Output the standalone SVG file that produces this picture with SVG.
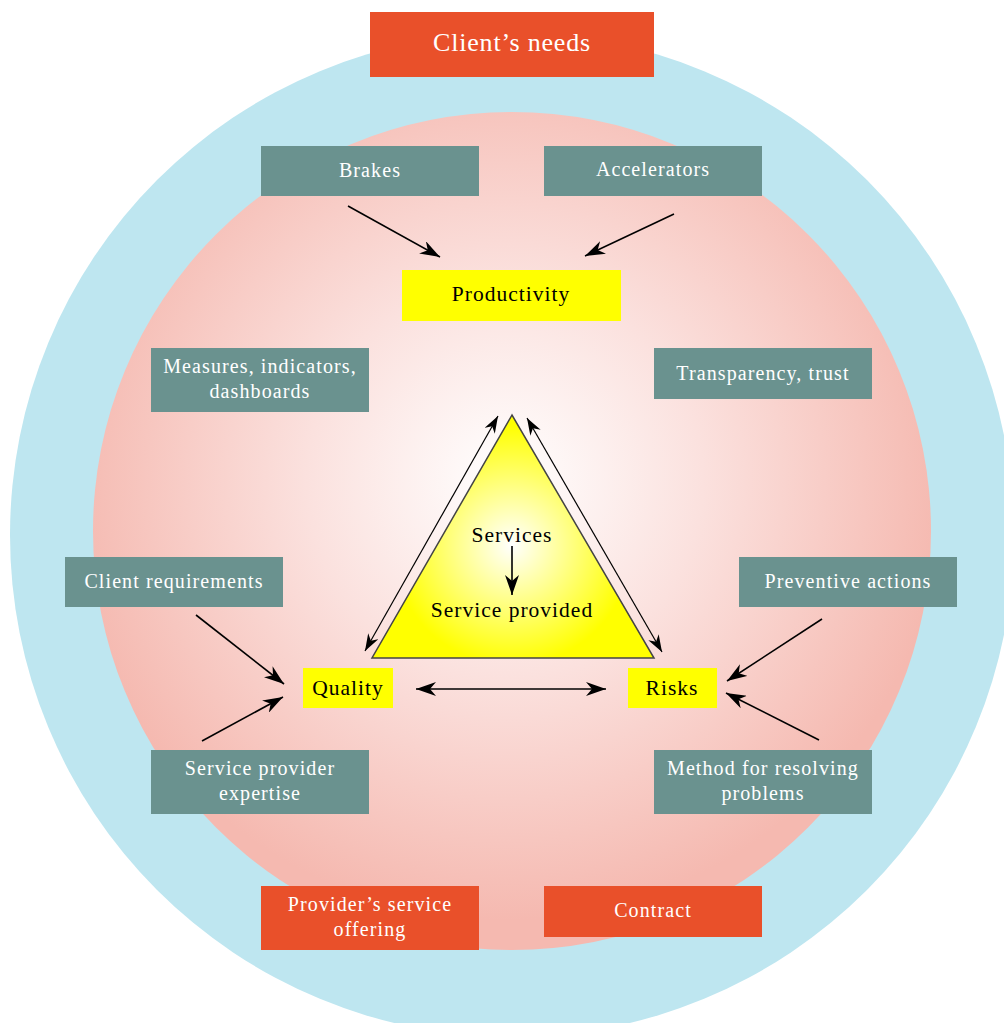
<svg xmlns="http://www.w3.org/2000/svg" width="1004" height="1023" viewBox="0 0 1004 1023">
<defs>
<radialGradient id="pink" gradientUnits="userSpaceOnUse" cx="505" cy="480" r="440">
<stop offset="0" stop-color="#ffffff"/>
<stop offset="0.45" stop-color="#fbe1de"/>
<stop offset="1" stop-color="#f5b9b0"/>
</radialGradient>
<radialGradient id="yel" gradientUnits="userSpaceOnUse" cx="512" cy="545" r="120">
<stop offset="0" stop-color="#ffffff"/>
<stop offset="0.5" stop-color="#ffff80"/>
<stop offset="1" stop-color="#ffff00"/>
</radialGradient>
<marker id="ah" viewBox="0 0 20 14" refX="20" refY="7" markerWidth="20" markerHeight="14" markerUnits="userSpaceOnUse" orient="auto-start-reverse">
<path d="M0,0 L20,7 L0,14 L6,7 z" fill="#000"/>
</marker>
<marker id="ahs" viewBox="0 0 20 14" refX="20" refY="7" markerWidth="17" markerHeight="12" markerUnits="userSpaceOnUse" orient="auto-start-reverse">
<path d="M0,0 L20,7 L0,14 L6,7 z" fill="#000"/>
</marker>
</defs>
<style>
.teal{fill:#6a928f}
.red{fill:#e9502a}
.yb{fill:#ffff00}
.wt{fill:#ffffff;font-family:"Liberation Serif","DejaVu Serif",serif;font-size:20px;letter-spacing:1.1px;text-anchor:middle}
.bt{fill:#000000;font-family:"Liberation Serif","DejaVu Serif",serif;font-size:21.5px;letter-spacing:1px;text-anchor:middle}
.ln{stroke:#000;stroke-width:1.6;fill:none;marker-end:url(#ah)}
.ln2{stroke:#000;stroke-width:1.2;fill:none;marker-end:url(#ahs);marker-start:url(#ahs)}
</style>
<rect width="1004" height="1023" fill="#ffffff"/>
<circle cx="512" cy="535" r="502" fill="#bee6f0"/>
<circle cx="512" cy="531" r="419" fill="url(#pink)"/>

<g id="client-needs"><rect class="red" x="370" y="12" width="284" height="65"/><text class="wt" x="512" y="51" style="font-size:26px;letter-spacing:0.8px">Client’s needs</text></g>
<g id="brakes"><rect class="teal" x="261" y="146" width="218" height="50"/><text class="wt" x="370" y="177">Brakes</text></g>
<g id="accelerators"><rect class="teal" x="544" y="146" width="218" height="50"/><text class="wt" x="653" y="176">Accelerators</text></g>
<g id="productivity"><rect class="yb" x="402" y="270" width="219" height="51"/><text class="bt" x="511" y="301">Productivity</text></g>
<g id="measures"><rect class="teal" x="151" y="348" width="218" height="64"/><text class="wt" x="260" y="373">Measures, indicators,</text><text class="wt" x="260" y="398">dashboards</text></g>
<g id="transparency"><rect class="teal" x="654" y="348" width="218" height="51"/><text class="wt" x="763" y="380">Transparency, trust</text></g>
<g id="triangle"><polygon points="512,415 372,658 654,658" fill="url(#yel)" stroke="#444" stroke-width="1.5"/><text class="bt" x="512" y="542">Services</text><text class="bt" x="512" y="617">Service provided</text></g>
<g id="client-req"><rect class="teal" x="65" y="557" width="218" height="50"/><text class="wt" x="174" y="588">Client requirements</text></g>
<g id="preventive"><rect class="teal" x="739" y="557" width="218" height="50"/><text class="wt" x="848" y="588">Preventive actions</text></g>
<g id="quality"><rect class="yb" x="303" y="668" width="90" height="40"/><text class="bt" x="348" y="695">Quality</text></g>
<g id="risks"><rect class="yb" x="628" y="668" width="89" height="40"/><text class="bt" x="672" y="695">Risks</text></g>
<g id="expertise"><rect class="teal" x="151" y="750" width="218" height="64"/><text class="wt" x="260" y="775">Service provider</text><text class="wt" x="260" y="800">expertise</text></g>
<g id="method"><rect class="teal" x="654" y="750" width="218" height="64"/><text class="wt" x="763" y="775">Method for resolving</text><text class="wt" x="763" y="800">problems</text></g>
<g id="provider-offering"><rect class="red" x="261" y="886" width="218" height="64"/><text class="wt" x="370" y="911">Provider’s service</text><text class="wt" x="370" y="936">offering</text></g>
<g id="contract"><rect class="red" x="544" y="886" width="218" height="51"/><text class="wt" x="653" y="917">Contract</text></g>

<g id="connectors">
<line class="ln" x1="348" y1="206" x2="440" y2="257"/>
<line class="ln" x1="674" y1="214" x2="585" y2="256"/>
<line class="ln" x1="512" y1="546" x2="512" y2="595"/>
<line class="ln" x1="196" y1="615" x2="284" y2="684"/>
<line class="ln" x1="202" y1="741" x2="283" y2="697"/>
<line class="ln" x1="822" y1="619" x2="727" y2="681"/>
<line class="ln" x1="819" y1="740" x2="726" y2="693"/>
<line class="ln" x1="416" y1="689" x2="606" y2="689" style="marker-start:url(#ah)"/>
<line class="ln2" x1="365" y1="651" x2="498" y2="416"/>
<line class="ln2" x1="527" y1="418" x2="662" y2="652"/>
</g>
</svg>
